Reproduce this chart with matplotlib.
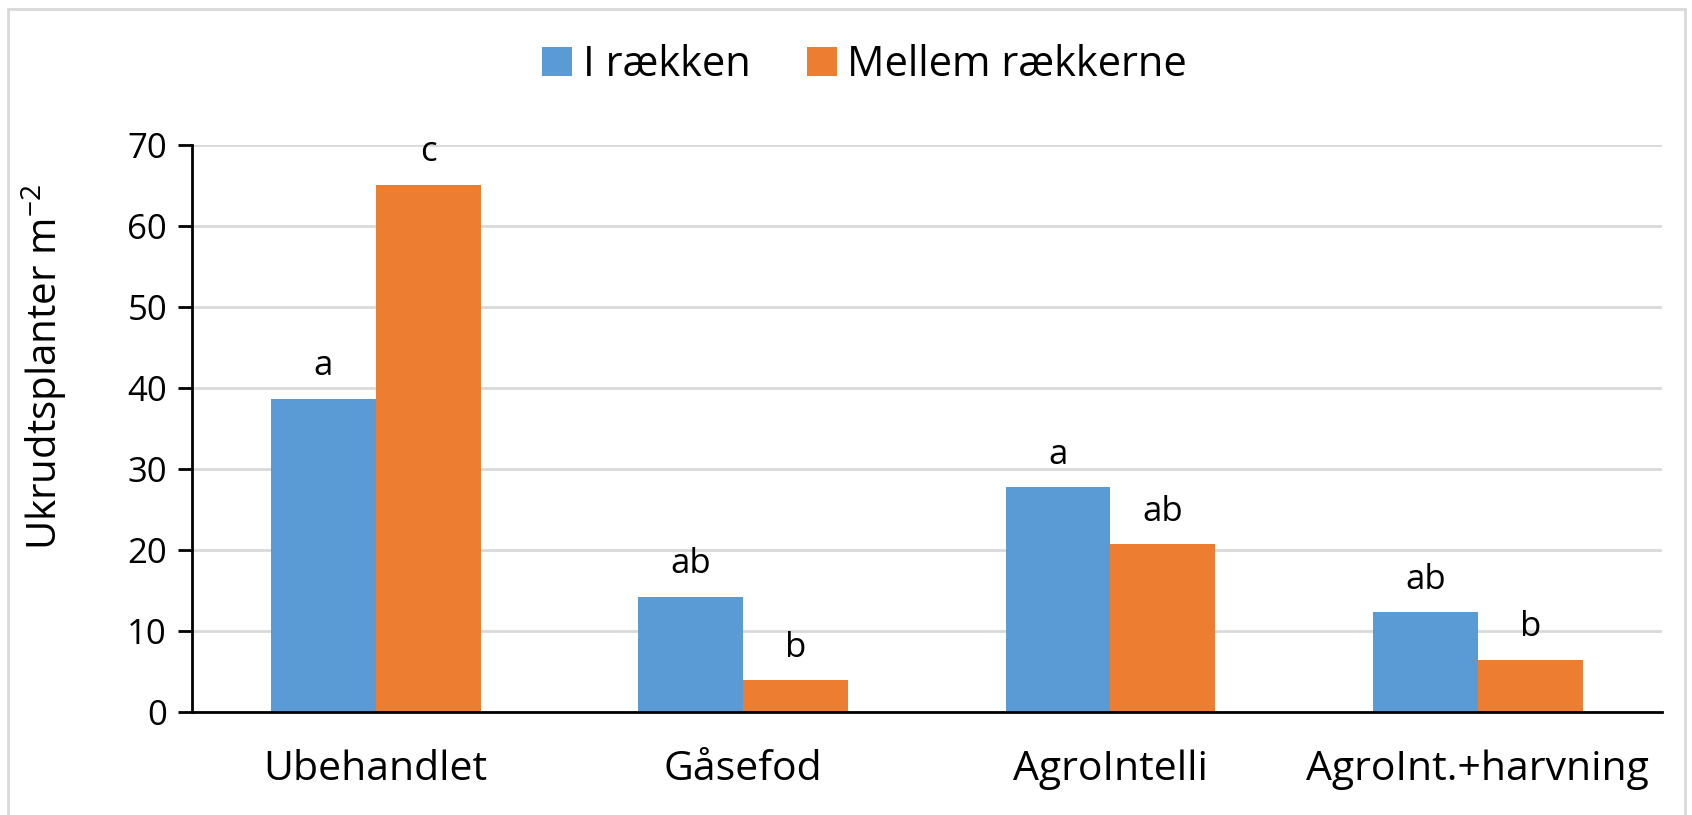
import numpy as np
import matplotlib.pyplot as plt
from matplotlib.patches import Rectangle

# data
kategorier = ['Ubehandlet', 'Gåsefod', 'AgroIntelli', 'AgroInt.+harvning']
i_raekken = [38.6, 14.2, 27.7, 12.3]
mellem_raekkerne = [65.0, 3.9, 20.7, 6.4]
bogstaver_i = ['a', 'ab', 'a', 'ab']
bogstaver_mellem = ['c', 'b', 'ab', 'b']
yticks = [0, 10, 20, 30, 40, 50, 60, 70]

plt.rcParams['font.family'] = ['Open Sans', 'DejaVu Sans']

fig = plt.figure(figsize=(16.92, 8.15), dpi=100)
ax = fig.add_axes([0.1135, 0.1264, 0.8685, 0.6962])

x = np.arange(len(kategorier))
w = 1 / 3.5
b1 = ax.bar(x - w / 2, i_raekken, w, color='#5B9BD5', label='I rækken', zorder=3)
b2 = ax.bar(x + w / 2, mellem_raekkerne, w, color='#ED7D31', label='Mellem rækkerne', zorder=3)

# bogstaver over søjlerne
for rects, labels in [(b1, bogstaver_i), (b2, bogstaver_mellem)]:
    for r, lab in zip(rects, labels):
        ax.annotate(lab, (r.get_x() + r.get_width() / 2, r.get_height()),
                    xytext=(0, 17), textcoords='offset points',
                    ha='center', va='baseline', fontsize=25)

ax.set_xlim(-0.5, 3.5)
ax.set_ylim(0, 70)
ax.set_yticks(yticks)
ax.set_xticks(x)
ax.set_xticklabels(kategorier, fontsize=29.5)
ax.tick_params(axis='x', length=0, pad=27)
ax.tick_params(axis='y', labelsize=25, length=10, width=2, direction='out', pad=8)
ax.yaxis.grid(True, color='#d9d9d9', linewidth=2, zorder=0)
ax.set_axisbelow(True)

for s in ['top', 'right']:
    ax.spines[s].set_visible(False)
ax.spines['left'].set_linewidth(2)
ax.spines['bottom'].set_linewidth(2)
ax.spines['bottom'].set_zorder(4)

ax.set_ylabel(r'Ukrudtsplanter m$^{\mathregular{-2}}$', fontsize=29)
ax.yaxis.set_label_coords(-0.084, 0.608)

fig.legend(loc='center', bbox_to_anchor=(0.511, 0.92), ncol=2, frameon=False,
           fontsize=30, handlelength=0.72, handleheight=0.72, columnspacing=1.35,
           handletextpad=0.25)

# ramme om diagrammet
fig.patches.append(Rectangle((8 / 1692, -0.01), 1677 / 1692, 1.0 - 9 / 815 + 0.01,
                             transform=fig.transFigure, fill=False,
                             edgecolor='#d9d9d9', linewidth=2))

fig.savefig('out.png', dpi=100)
